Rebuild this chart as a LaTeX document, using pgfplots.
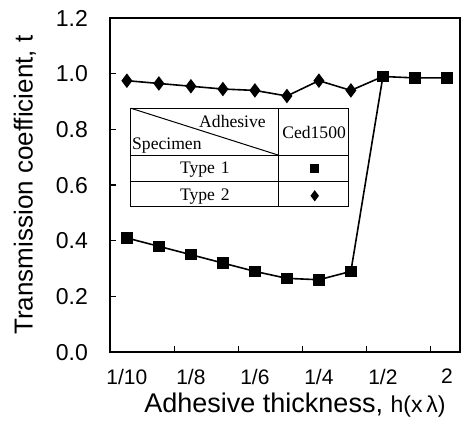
\documentclass[border=0pt]{standalone}
\usepackage{pgfplots}
\pgfplotsset{compat=1.18}
\usepackage{fontspec}
\setmainfont{Liberation Sans}
\newfontfamily\seriffont{Liberation Serif}
\begin{document}
\begin{tikzpicture}
\begin{axis}[
  scale only axis, width=175pt, height=167pt,
  xmin=-0.53, xmax=10.41, ymin=0, ymax=1.2,
  axis line style={line width=1pt},
  tick align=inside, tick pos=left,
  major tick length=3pt,
  tick style={line width=0.6pt, black},
  xtick={1.5,3.5,5.5,7.5,9.5}, xticklabels={,,,,},
  extra x ticks={0,2,4,6,8,10},
  extra x tick labels={1/10,1/8,1/6,1/4,1/2,2},
  extra x tick style={major tick length=0pt},
  xticklabel style={font=\fontsize{10.5}{12}\selectfont, yshift=-5pt},
  ytick={0,0.2,0.4,0.6,0.8,1.0,1.2},
  yticklabel style={font=\fontsize{11.5}{13}\selectfont, xshift=-7.5pt,
    /pgf/number format/fixed, /pgf/number format/fixed zerofill,
    /pgf/number format/precision=1},
  /pgf/number format/assume math mode=true,
  xlabel={Adhesive thickness, {\fontsize{11.5}{13}\selectfont h(x\,λ)}},
  xlabel style={at={(rel axis cs:0.5,0)}, anchor=center, yshift=-26.5pt, xshift=5pt,
    font=\fontsize{13.5}{15}\selectfont},
  ylabel={Transmission coefficient, t},
  ylabel style={at={(rel axis cs:-0.243,0.5)}, anchor=center,
    font=\fontsize{13}{15}\selectfont},
  clip=false,
  legend style={at={(axis cs:0.125,0.707)}, anchor=north west, draw=none, fill=none,
    inner sep=0pt, outer sep=0pt, row sep=0pt, column sep=0pt,
    nodes={inner sep=0pt, text width=74pt, align=center, minimum height=13.5pt,
      font=\seriffont\fontsize{8.8}{10}\selectfont}},
  legend plot pos=right,
  legend image code/.code={\path (0pt,0pt) (35pt,0pt); \draw[#1, mark options={scale=0.72}] plot coordinates {(17.5pt,0pt)};},
]
% invisible frame to fix the picture size
\path (rel axis cs:-0.314,-0.2275) rectangle (rel axis cs:1.0057,1.054);
% table
\filldraw[fill=white, draw=black, line width=0.5pt]
  (axis cs:0.125,0.876) rectangle (axis cs:6.94,0.522);
\draw[line width=0.5pt] (axis cs:4.75,0.876) -- (axis cs:4.75,0.522);
\draw[line width=0.5pt] (axis cs:0.125,0.707) -- (axis cs:6.94,0.707);
\draw[line width=0.5pt] (axis cs:0.125,0.614) -- (axis cs:6.94,0.614);
\draw[line width=0.5pt] (axis cs:0.125,0.876) -- (axis cs:4.75,0.707);
\node[font=\seriffont\fontsize{8.8}{10}\selectfont] at (axis cs:3.3,0.828) {Adhesive};
\node[font=\seriffont\fontsize{8.8}{10}\selectfont] at (axis cs:1.25,0.743) {Specimen};
\node[font=\seriffont\fontsize{8.8}{10}\selectfont] at (axis cs:5.85,0.79) {Ced1500};
% Type 1
\addplot[black, line width=0.8pt, mark=square*, mark size=2.5pt] coordinates {
 (0,0.41) (1,0.38) (2,0.35) (3,0.32) (4,0.29) (5,0.265) (6,0.26) (7,0.29)
 (8,0.99) (9,0.985) (10,0.985)};
\addlegendentry{Type 1}
% Type 2
\addplot[black, line width=0.8pt, forget plot] coordinates {(7,0.94) (8,0.99)};
\addplot[black, line width=0.8pt, mark=diamond*, mark size=3pt] coordinates {
 (0,0.975) (1,0.965) (2,0.955) (3,0.945) (4,0.94) (5,0.92) (6,0.975) (7,0.94)};
\addlegendentry{Type 2}
\end{axis}
\end{tikzpicture}
\end{document}
